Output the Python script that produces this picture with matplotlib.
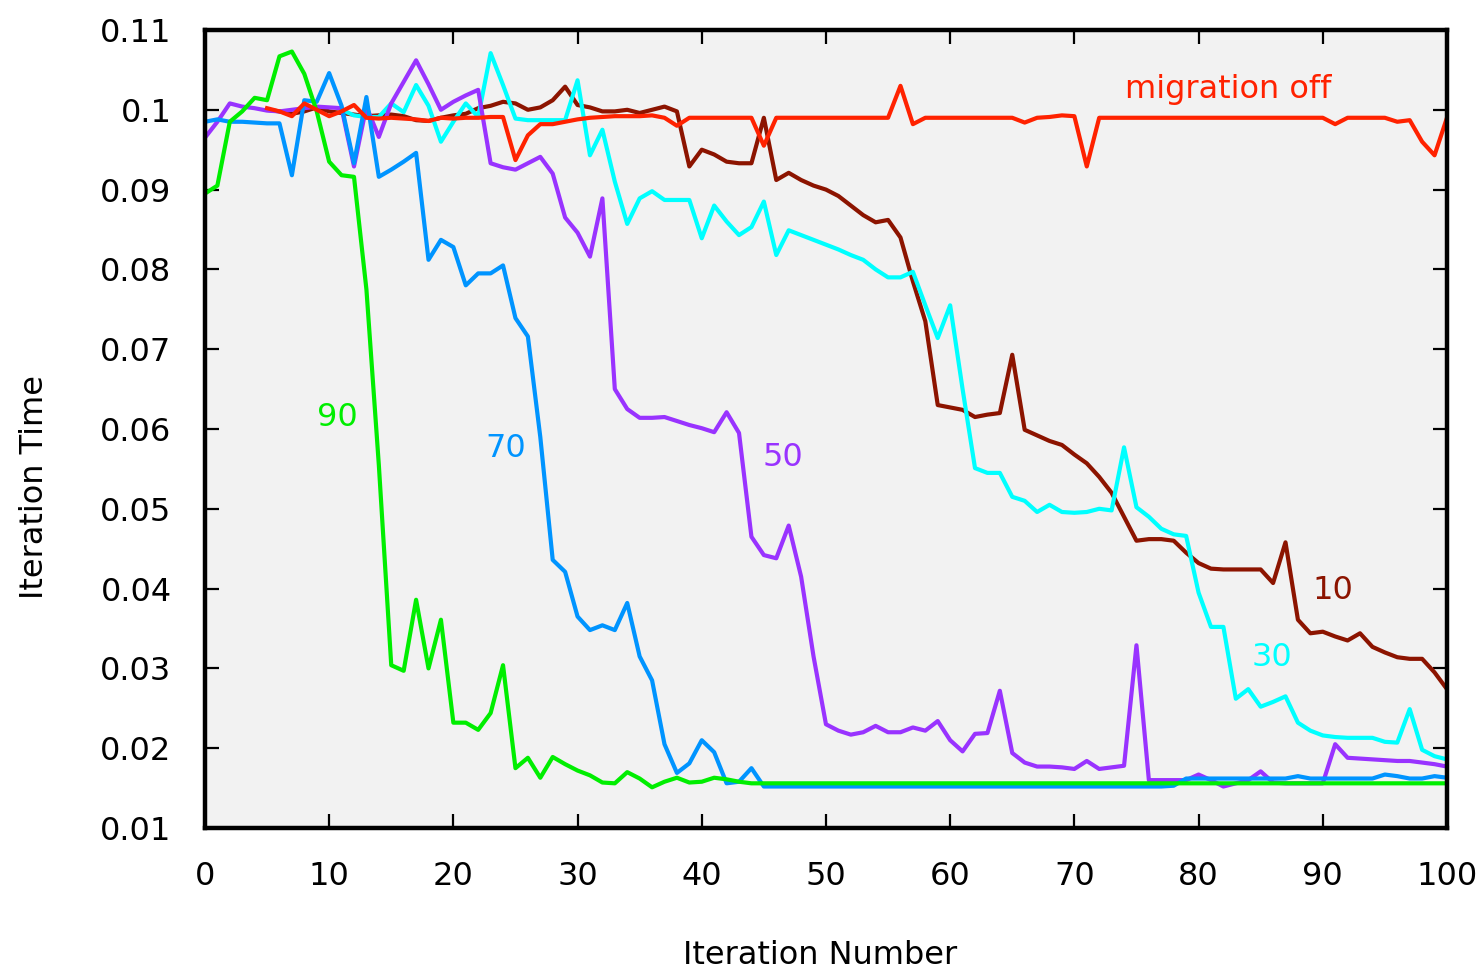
import matplotlib
matplotlib.use('Agg')
import matplotlib.pyplot as plt

# iteration time per iteration, one run per migration rate
iter_off = list(range(5, 101))
time_off = [0.1002, 0.0998, 0.0992, 0.1008, 0.1000, 0.0992, 0.0998, 0.1006, 0.0990, 0.0989,
            0.0990, 0.0989, 0.0988, 0.0986, 0.0990, 0.0989, 0.0990, 0.0990, 0.0991, 0.0991,
            0.0937, 0.0968, 0.0982, 0.0982, 0.0985, 0.0988, 0.0990, 0.0991, 0.0992, 0.0992,
            0.0992, 0.0993, 0.0990, 0.0980, 0.0990, 0.0990, 0.0990, 0.0990, 0.0990, 0.0990,
            0.0955, 0.0990, 0.0990, 0.0990, 0.0990, 0.0990, 0.0990, 0.0990, 0.0990, 0.0990,
            0.0990, 0.1030, 0.0982, 0.0990, 0.0990, 0.0990, 0.0990, 0.0990, 0.0990, 0.0990,
            0.0990, 0.0984, 0.0990, 0.0991, 0.0993, 0.0992, 0.0929, 0.0990, 0.0990, 0.0990,
            0.0990, 0.0990, 0.0990, 0.0990, 0.0990, 0.0990, 0.0990, 0.0990, 0.0990, 0.0990,
            0.0990, 0.0990, 0.0990, 0.0990, 0.0990, 0.0990, 0.0982, 0.0990, 0.0990, 0.0990,
            0.0990, 0.0985, 0.0987, 0.0960, 0.0943, 0.0990]

iter_10 = list(range(5, 101))
time_10 = [0.1000, 0.0998, 0.0995, 0.0998, 0.1003, 0.0998, 0.0996, 0.0994, 0.0992, 0.0993,
           0.0994, 0.0992, 0.0987, 0.0986, 0.0990, 0.0993, 0.0995, 0.1002, 0.1005, 0.1010,
           0.1008, 0.1000, 0.1003, 0.1012, 0.1029, 0.1006, 0.1003, 0.0998, 0.0998, 0.1000,
           0.0996, 0.1000, 0.1004, 0.0998, 0.0929, 0.0950, 0.0944, 0.0935, 0.0933, 0.0933,
           0.0990, 0.0912, 0.0921, 0.0912, 0.0905, 0.0900, 0.0892, 0.0880, 0.0868, 0.0859,
           0.0862, 0.0840, 0.0785, 0.0735, 0.0630, 0.0627, 0.0624, 0.0615, 0.0618, 0.0620,
           0.0693, 0.0599, 0.0592, 0.0585, 0.0580, 0.0568, 0.0557, 0.0540, 0.0520, 0.0490,
           0.0460, 0.0462, 0.0462, 0.0460, 0.0445, 0.0432, 0.0425, 0.0424, 0.0424, 0.0424,
           0.0424, 0.0407, 0.0458, 0.0361, 0.0344, 0.0346, 0.0340, 0.0335, 0.0344, 0.0327,
           0.0320, 0.0314, 0.0312, 0.0312, 0.0295, 0.0274]

iter_30 = list(range(11, 101))
time_30 = [0.1000, 0.0993, 0.0991, 0.0991, 0.1008, 0.0997, 0.1031, 0.1005, 0.0960, 0.0985,
           0.1008, 0.0991, 0.1071, 0.1031, 0.0989, 0.0987, 0.0987, 0.0987, 0.0987, 0.1037,
           0.0943, 0.0975, 0.0910, 0.0857, 0.0889, 0.0898, 0.0887, 0.0887, 0.0887, 0.0839,
           0.0880, 0.0860, 0.0843, 0.0853, 0.0885, 0.0818, 0.0849, 0.0843, 0.0837, 0.0831,
           0.0825, 0.0818, 0.0812, 0.0800, 0.0790, 0.0790, 0.0797, 0.0755, 0.0714, 0.0755,
           0.0650, 0.0551, 0.0545, 0.0545, 0.0515, 0.0510, 0.0496, 0.0505, 0.0496, 0.0495,
           0.0496, 0.0500, 0.0498, 0.0577, 0.0502, 0.0490, 0.0475, 0.0468, 0.0466, 0.0395,
           0.0352, 0.0352, 0.0262, 0.0274, 0.0252, 0.0258, 0.0265, 0.0232, 0.0222, 0.0216,
           0.0214, 0.0213, 0.0213, 0.0213, 0.0208, 0.0207, 0.0249, 0.0198, 0.0190, 0.0186]

iter_50 = list(range(0, 101))
time_50 = [0.0965, 0.0985, 0.1008, 0.1004, 0.1002, 0.0999, 0.0998, 0.1000, 0.1002, 0.1004,
           0.1003, 0.1002, 0.0929, 0.1004, 0.0966, 0.1008, 0.1035, 0.1062, 0.1032, 0.1000,
           0.1010, 0.1018, 0.1025, 0.0933, 0.0928, 0.0925, 0.0933, 0.0941, 0.0920, 0.0865,
           0.0846, 0.0816, 0.0889, 0.0650, 0.0625, 0.0614, 0.0614, 0.0615, 0.0610, 0.0605,
           0.0601, 0.0596, 0.0621, 0.0595, 0.0465, 0.0442, 0.0438, 0.0479, 0.0415, 0.0315,
           0.0230, 0.0222, 0.0217, 0.0220, 0.0228, 0.0220, 0.0220, 0.0226, 0.0222, 0.0234,
           0.0210, 0.0196, 0.0218, 0.0219, 0.0272, 0.0194, 0.0182, 0.0177, 0.0177, 0.0176,
           0.0174, 0.0184, 0.0174, 0.0176, 0.0178, 0.0329, 0.0160, 0.0160, 0.0160, 0.0160,
           0.0167, 0.0160, 0.0152, 0.0156, 0.0160, 0.0171, 0.0157, 0.0156, 0.0156, 0.0156,
           0.0156, 0.0205, 0.0188, 0.0187, 0.0186, 0.0185, 0.0184, 0.0184, 0.0182, 0.0180,
           0.0177]

iter_70 = list(range(0, 101))
time_70 = [0.0985, 0.0988, 0.0985, 0.0985, 0.0984, 0.0983, 0.0983, 0.0918, 0.1012, 0.1010,
           0.1046, 0.1005, 0.0933, 0.1016, 0.0916, 0.0925, 0.0935, 0.0946, 0.0812, 0.0837,
           0.0828, 0.0780, 0.0795, 0.0795, 0.0805, 0.0739, 0.0716, 0.0590, 0.0436, 0.0421,
           0.0365, 0.0348, 0.0354, 0.0348, 0.0382, 0.0315, 0.0285, 0.0205, 0.0169, 0.0181,
           0.0210, 0.0195, 0.0156, 0.0158, 0.0175, 0.0152, 0.0152, 0.0152, 0.0152, 0.0152,
           0.0152, 0.0152, 0.0152, 0.0152, 0.0152, 0.0152, 0.0152, 0.0152, 0.0152, 0.0152,
           0.0152, 0.0152, 0.0152, 0.0152, 0.0152, 0.0152, 0.0152, 0.0152, 0.0152, 0.0152,
           0.0152, 0.0152, 0.0152, 0.0152, 0.0152, 0.0152, 0.0152, 0.0152, 0.0153, 0.0162,
           0.0162, 0.0162, 0.0162, 0.0162, 0.0162, 0.0162, 0.0162, 0.0162, 0.0165, 0.0162,
           0.0162, 0.0162, 0.0162, 0.0162, 0.0162, 0.0167, 0.0165, 0.0162, 0.0162, 0.0165,
           0.0163]

iter_90 = list(range(0, 101))
time_90 = [0.0895, 0.0905, 0.0985, 0.0998, 0.1015, 0.1012, 0.1067, 0.1073, 0.1045, 0.0998,
           0.0935, 0.0918, 0.0916, 0.0775, 0.0555, 0.0304, 0.0297, 0.0386, 0.0300, 0.0361,
           0.0232, 0.0232, 0.0223, 0.0244, 0.0304, 0.0175, 0.0188, 0.0163, 0.0189, 0.0180,
           0.0172, 0.0166, 0.0157, 0.0156, 0.0170, 0.0162, 0.0151, 0.0158, 0.0163, 0.0157,
           0.0158, 0.0163, 0.0161, 0.0158, 0.0156, 0.0156, 0.0156, 0.0156, 0.0156, 0.0156,
           0.0156, 0.0156, 0.0156, 0.0156, 0.0156, 0.0156, 0.0156, 0.0156, 0.0156, 0.0156,
           0.0156, 0.0156, 0.0156, 0.0156, 0.0156, 0.0156, 0.0156, 0.0156, 0.0156, 0.0156,
           0.0156, 0.0156, 0.0156, 0.0156, 0.0156, 0.0156, 0.0156, 0.0156, 0.0156, 0.0156,
           0.0156, 0.0156, 0.0156, 0.0156, 0.0156, 0.0156, 0.0156, 0.0156, 0.0156, 0.0156,
           0.0156, 0.0156, 0.0156, 0.0156, 0.0156, 0.0156, 0.0156, 0.0156, 0.0156, 0.0156,
           0.0156]

x_ticks = [0, 10, 20, 30, 40, 50, 60, 70, 80, 90, 100]
y_ticks = [0.01, 0.02, 0.03, 0.04, 0.05, 0.06, 0.07, 0.08, 0.09, 0.1, 0.11]
y_tick_labels = ['0.01', '0.02', '0.03', '0.04', '0.05', '0.06', '0.07', '0.08', '0.09', '0.1', '0.11']

plt.rcParams['font.family'] = ['DejaVu Sans']
FS = 23

fig = plt.figure(figsize=(14.83, 9.77), dpi=100)
ax = fig.add_axes([0.1382, 0.1525, 0.8375, 0.8168])
ax.set_facecolor('#f2f2f2')

lw = 3.0
ax.plot(iter_10, time_10, color='#8c1400', lw=lw)
ax.plot(iter_30, time_30, color='#00ffff', lw=lw)
ax.plot(iter_50, time_50, color='#9933ff', lw=lw)
ax.plot(iter_70, time_70, color='#0094ff', lw=lw)
ax.plot(iter_90, time_90, color='#00ee00', lw=lw)
ax.plot(iter_off, time_off, color='#ff2200', lw=lw)

ax.text(10.7, 0.0614, '90', color='#00ee00', fontsize=FS, ha='center', va='center')
ax.text(24.2, 0.0576, '70', color='#0094ff', fontsize=FS, ha='center', va='center')
ax.text(46.5, 0.0564, '50', color='#9933ff', fontsize=FS, ha='center', va='center')
ax.text(90.8, 0.0398, '10', color='#8c1400', fontsize=FS, ha='center', va='center')
ax.text(85.9, 0.0314, '30', color='#00ffff', fontsize=FS, ha='center', va='center')
ax.text(82.4, 0.1025, 'migration off', color='#ff2200', fontsize=FS, ha='center', va='center')

ax.set_xlim(0, 100)
ax.set_ylim(0.01, 0.11)
ax.set_xticks(x_ticks)
ax.set_xticklabels([str(t) for t in x_ticks])
ax.set_yticks(y_ticks)
ax.set_yticklabels(y_tick_labels)
ax.tick_params(direction='in', length=10, width=1.6, top=True, right=True,
               labelsize=FS, colors='black')
ax.tick_params(axis='x', pad=24)
ax.tick_params(axis='y', pad=24)
for sp in ax.spines.values():
    sp.set_linewidth(3.2)

ax.set_xlabel('Iteration Number', fontsize=FS)
ax.xaxis.set_label_coords(0.495, -0.14)
fig.text(35 / 1483, 1 - 487 / 977, 'Iteration Time', fontsize=FS,
         rotation=90, ha='center', va='center')

fig.savefig('out.png', dpi=100)
